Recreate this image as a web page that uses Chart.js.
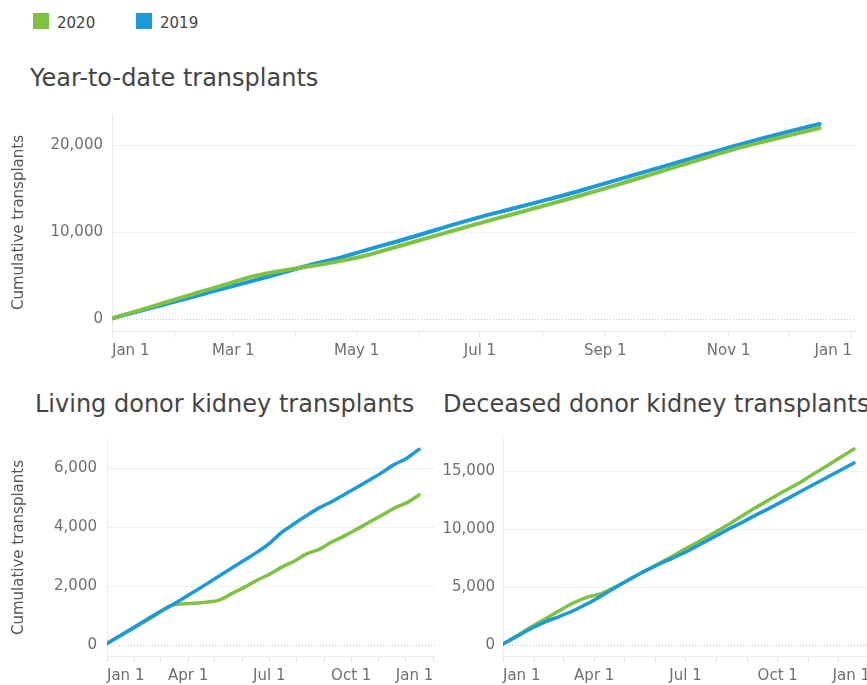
<!DOCTYPE html>
<html><head><meta charset="utf-8">
<script src="https://cdn.jsdelivr.net/npm/chart.js@4.4.1/dist/chart.umd.min.js"></script>
<style>
html,body{margin:0;padding:0;background:#fff;overflow:hidden;width:867px;height:685px;font-family:"DejaVu Sans",Verdana,sans-serif;}
.abs{position:absolute;}
.title{font-size:24px;line-height:28px;color:#444;white-space:nowrap;}
.leg{font-size:15px;line-height:18px;color:#444;}
.sw{width:16px;height:16px;}
canvas{position:absolute;}
</style></head><body>
<div class="abs sw" style="left:33px;top:13px;background:#7DC242"></div>
<div class="abs leg" style="left:57px;top:14px">2020</div>
<div class="abs sw" style="left:136px;top:13px;background:#1B9AD7"></div>
<div class="abs leg" style="left:160px;top:14px">2019</div>
<div class="abs title" style="left:30px;top:64px">Year-to-date transplants</div>
<div class="abs title" style="left:35px;top:390px">Living donor kidney transplants</div>
<div class="abs title" style="left:443px;top:390px">Deceased donor kidney transplants</div>
<canvas id="c1" width="867" height="275" style="left:0;top:96px"></canvas>
<canvas id="c2" width="440" height="265" style="left:0;top:420px"></canvas>
<canvas id="c3" width="440" height="265" style="left:438px;top:420px"></canvas>
<script>
// Day of year (0 = Jan 1)
const days = [0,14,28,42,56,70,84,98,112,126,140,154,168,182,196,210,224,238,252,266,280,294,308,322,336,350];

const ytd2020 = [60,1000,2000,3000,3950,4900,5550,6050,6620,7330,8250,9180,10100,11030,11910,12800,13690,14630,15590,16590,17590,18590,19550,20400,21200,21990];
const ytd2019 = [60,930,1800,2650,3550,4400,5300,6200,7000,7950,8850,9800,10800,11720,12570,13420,14270,15200,16150,17100,18040,18990,19920,20800,21650,22450];

const living2020 = [50,300,540,790,1050,1320,1400,1420,1460,1530,1750,1960,2200,2400,2650,2850,3100,3250,3500,3700,3930,4170,4400,4650,4830,5100];
const living2019 = [60,310,560,820,1070,1310,1560,1820,2080,2350,2620,2880,3150,3450,3830,4120,4400,4660,4870,5110,5350,5600,5850,6130,6340,6650];

const deceased2020 = [80,800,1550,2250,2950,3620,4130,4430,5000,5650,6300,6950,7600,8300,8950,9650,10350,11100,11850,12550,13250,13900,14650,15400,16150,16900];
const deceased2019 = [80,750,1420,2000,2450,2950,3550,4230,4950,5650,6320,6900,7450,8000,8650,9300,9950,10550,11200,11800,12450,13100,13750,14400,15050,15700];

const monthStarts = [0,31,60,91,121,152,182,213,244,274,305,335,366];
const monthLabels = ['Jan 1','Feb 1','Mar 1','Apr 1','May 1','Jun 1','Jul 1','Aug 1','Sep 1','Oct 1','Nov 1','Dec 1','Jan 1'];
const topLabeled = [0,2,4,6,8,10,12];
const bottomLabeled = [0,3,6,9,12];

const ytdTicks = [0,10000,20000];
const livingTicks = [0,2000,4000,6000];
const deceasedTicks = [0,5000,10000,15000];

const GREEN = '#7DC242', BLUE = '#1B9AD7';
Chart.defaults.font.family = '"DejaVu Sans", Verdana, sans-serif';

const zeroLine = {
  id: 'zeroLine',
  beforeDatasetsDraw(chart) {
    const {ctx, chartArea: a, scales: {y}} = chart;
    const py = Math.round(y.getPixelForValue(0)) + 0.5;
    ctx.save();
    ctx.strokeStyle = '#c4c4c4';
    ctx.lineWidth = 1;
    ctx.setLineDash([1, 2]);
    ctx.beginPath(); ctx.moveTo(a.left, py); ctx.lineTo(a.right, py); ctx.stroke();
    ctx.restore();
  }
};

function pts(vals) { return days.map((d, i) => ({x: d, y: vals[i]})); }

function makeChart(id, cfg) {
  const ds = cfg.series.map(s => ({
    data: pts(s.vals), borderColor: s.color, backgroundColor: s.color,
    borderWidth: cfg.lw, pointRadius: 0, borderCapStyle: 'round', borderJoinStyle: 'round',
    cubicInterpolationMode: 'monotone', fill: false
  }));
  return new Chart(document.getElementById(id), {
    type: 'line',
    data: {datasets: ds},
    plugins: [zeroLine],
    options: {
      responsive: false, animation: false, devicePixelRatio: 1,
      layout: {padding: cfg.pad},
      plugins: {legend: {display: false}, tooltip: {enabled: false}},
      scales: {
        x: {
          type: 'linear', min: 0, max: cfg.xmax,
          afterBuildTicks: sc => { sc.ticks = monthStarts.map(v => ({value: v})); },
          afterFit: sc => { sc.height = cfg.xh; },
          ticks: {
            autoSkip: false, maxRotation: 0, align: 'inner', padding: 5,
            color: '#6f6f6f', font: {size: 15},
            callback: (v, i) => cfg.labeled.includes(i) ? monthLabels[i] : ''
          },
          grid: {drawOnChartArea: false, drawTicks: true, tickLength: 6, tickColor: '#e4e4e4', color: '#e4e4e4'},
          border: {display: true, color: '#ebebeb'}
        },
        y: {
          type: 'linear', min: cfg.ymin, max: cfg.ymax,
          afterBuildTicks: sc => { sc.ticks = cfg.yticks.map(v => ({value: v})); },
          afterFit: sc => { sc.width = cfg.yw; },
          ticks: {padding: cfg.ypad, color: '#6f6f6f', font: {size: 15},
            callback: v => v.toLocaleString('en-US')},
          grid: {drawTicks: false, color: c => (c.tick && c.tick.value === 0) ? 'rgba(0,0,0,0)' : '#f0f0f0'},
          border: {display: true, color: '#ebebeb'},
          title: {display: cfg.ytitle, text: 'Cumulative transplants', color: '#555', font: {size: 15}, padding: {top: 10, bottom: 0}}
        }
      }
    }
  });
}

makeChart('c1', {
  series: [{vals: ytd2020, color: GREEN}, {vals: ytd2019, color: BLUE}],
  lw: 4, pad: {top: 17, right: 12, left: 0, bottom: 0}, xmax: 367.5, xh: 40, labeled: topLabeled,
  ymin: -1400, ymax: 23600, yticks: ytdTicks, yw: 112, ypad: 9, ytitle: true
});
makeChart('c2', {
  series: [{vals: living2019, color: BLUE}, {vals: living2020, color: GREEN}],
  lw: 3.5, pad: {top: 18, right: 5, left: 0, bottom: 0}, xmax: 368, xh: 29, labeled: bottomLabeled,
  ymin: -370, ymax: 7000, yticks: livingTicks, yw: 107, ypad: 10, ytitle: true
});
makeChart('c3', {
  series: [{vals: deceased2019, color: BLUE}, {vals: deceased2020, color: GREEN}],
  lw: 3.5, pad: {top: 18, right: 0, left: 0, bottom: 0}, xmax: 374, xh: 29, labeled: bottomLabeled,
  ymin: -950, ymax: 17850, yticks: deceasedTicks, yw: 65, ypad: 8, ytitle: false
});
</script>
</body></html>
